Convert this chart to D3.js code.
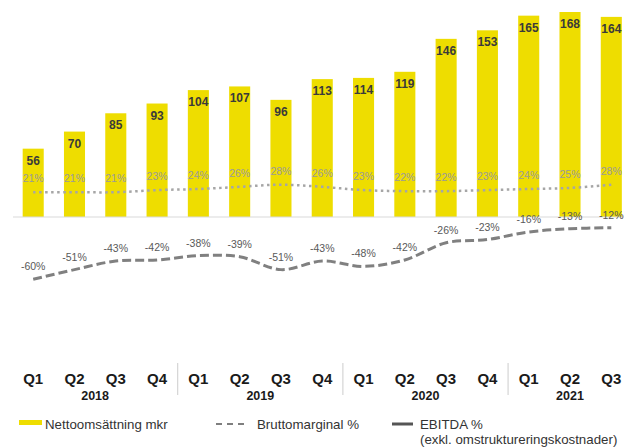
<!DOCTYPE html>
<html>
<head>
<meta charset="utf-8">
<script src="https://cdn.jsdelivr.net/npm/d3@7"></script>
<style>
  html, body { margin: 0; padding: 0; background: #fff; }
  svg { display: block; font-family: "Liberation Sans", Arial, sans-serif; }
</style>
</head>
<body>
<svg id="chart" width="624" height="447"></svg>
<script>
// ---- data ----
const quarters = ["Q1","Q2","Q3","Q4","Q1","Q2","Q3","Q4","Q1","Q2","Q3","Q4","Q1","Q2","Q3"];
const years = ["2018","2018","2018","2018","2019","2019","2019","2019","2020","2020","2020","2020","2021","2021","2021"];
const yearLabels = ["2018","2019","2020","2021"];
const netSales = [56,70,85,93,104,107,96,113,114,119,146,153,165,168,164];
const grossMargin = [21,21,21,23,24,26,28,26,23,22,22,23,24,25,28];
const ebitda = [-60,-51,-43,-42,-38,-39,-51,-43,-48,-42,-26,-23,-16,-13,-12];
const legendLabels = ["Nettoomsättning mkr","Bruttomarginal %","EBITDA %","(exkl. omstruktureringskostnader)"];

const keys = quarters.map((q,i) => years[i] + " " + q);

const svg = d3.select("#chart");

const x = d3.scalePoint().domain(keys).range([33.2, 611.3]);
const step = x.step();
const barW = step * 0.51;
const yBar = d3.scaleLinear().domain([0, 168]).range([217, 12]);
const yPct = d3.scaleLinear().domain([0, -60]).range([214.8, 279.3]);

// bars
svg.append("g").selectAll("rect").data(netSales).join("rect")
  .attr("x", (d,i) => x(keys[i]) - barW/2)
  .attr("y", d => yBar(d))
  .attr("width", barW)
  .attr("height", d => yBar(0) - yBar(d))
  .attr("fill", "#EEDD00");

// baseline axis
svg.append("line")
  .attr("x1", 13).attr("x2", 624)
  .attr("y1", yBar(0)).attr("y2", yBar(0))
  .attr("stroke", "#d9d9d9").attr("stroke-width", 1.2);

// bar value labels
svg.append("g").selectAll("text").data(netSales).join("text")
  .attr("x", (d,i) => x(keys[i]))
  .attr("y", d => yBar(d) + 16)
  .attr("text-anchor", "middle")
  .attr("font-size", 12).attr("font-weight", "bold")
  .attr("fill", "#3a3a3a")
  .text(d => d);

// lines
const line = (ys) => d3.line()
  .x((d,i) => x(keys[i]))
  .y(d => ys(d))
  .curve(d3.curveCatmullRom.alpha(0.5));

svg.append("path")
  .datum(grossMargin)
  .attr("d", line(yPct))
  .attr("fill", "none")
  .attr("stroke", "#a6a6a6")
  .attr("stroke-width", 2.5)
  .attr("stroke-dasharray", "2.5 3.5");

svg.append("g").selectAll("text").data(grossMargin).join("text")
  .attr("x", (d,i) => x(keys[i]))
  .attr("y", d => yPct(d) - 10)
  .attr("text-anchor", "middle")
  .attr("font-size", 10.5)
  .attr("fill", "#9a9a9a")
  .text(d => d + "%");

svg.append("path")
  .datum(ebitda)
  .attr("d", line(yPct))
  .attr("fill", "none")
  .attr("stroke", "#808080")
  .attr("stroke-width", 3)
  .attr("stroke-dasharray", "9 4");

svg.append("g").selectAll("text").data(ebitda).join("text")
  .attr("x", (d,i) => x(keys[i]))
  .attr("y", d => yPct(d) - 9)
  .attr("text-anchor", "middle")
  .attr("font-size", 10.5)
  .attr("fill", "#595959")
  .text(d => d + "%");

// quarter labels
svg.append("g").selectAll("text").data(quarters).join("text")
  .attr("x", (d,i) => x(keys[i]))
  .attr("y", 384)
  .attr("text-anchor", "middle")
  .attr("font-size", 15).attr("font-weight", "bold")
  .attr("fill", "#1a1a1a")
  .text(d => d);

// year labels
const yearCenters = yearLabels.map(y => {
  const idx = years.map((v,i) => v === y ? i : -1).filter(i => i >= 0);
  return (x(keys[idx[0]]) + x(keys[idx[idx.length-1]])) / 2;
});
svg.append("g").selectAll("text").data(yearLabels).join("text")
  .attr("x", (d,i) => yearCenters[i])
  .attr("y", 400)
  .attr("text-anchor", "middle")
  .attr("font-size", 12.5).attr("font-weight", "bold")
  .attr("fill", "#1a1a1a")
  .text(d => d);

// separators between years
const sepIdx = years.map((v,i) => (i > 0 && v !== years[i-1]) ? i : -1).filter(i => i > 0);
svg.append("g").selectAll("line").data(sepIdx).join("line")
  .attr("x1", i => (x(keys[i-1]) + x(keys[i])) / 2)
  .attr("x2", i => (x(keys[i-1]) + x(keys[i])) / 2)
  .attr("y1", 363).attr("y2", 395)
  .attr("stroke", "#cccccc").attr("stroke-width", 1);

// legend
const lg = svg.append("g").attr("font-size", 13.3).attr("fill", "#333");
lg.append("rect").attr("x", 19).attr("y", 420).attr("width", 23).attr("height", 5).attr("fill", "#EEDD00");
lg.append("text").attr("x", 45).attr("y", 429).text(legendLabels[0]);
lg.append("line").attr("x1", 216).attr("x2", 247).attr("y1", 424).attr("y2", 424)
  .attr("stroke", "#555").attr("stroke-width", 1.5).attr("stroke-dasharray", "6 5");
lg.append("text").attr("x", 257).attr("y", 429).text(legendLabels[1]);
lg.append("line").attr("x1", 392).attr("x2", 413).attr("y1", 424).attr("y2", 424)
  .attr("stroke", "#555").attr("stroke-width", 3);
lg.append("text").attr("x", 420).attr("y", 429).text(legendLabels[2]);
lg.append("text").attr("x", 420).attr("y", 444).text(legendLabels[3]);
</script>
</body>
</html>
